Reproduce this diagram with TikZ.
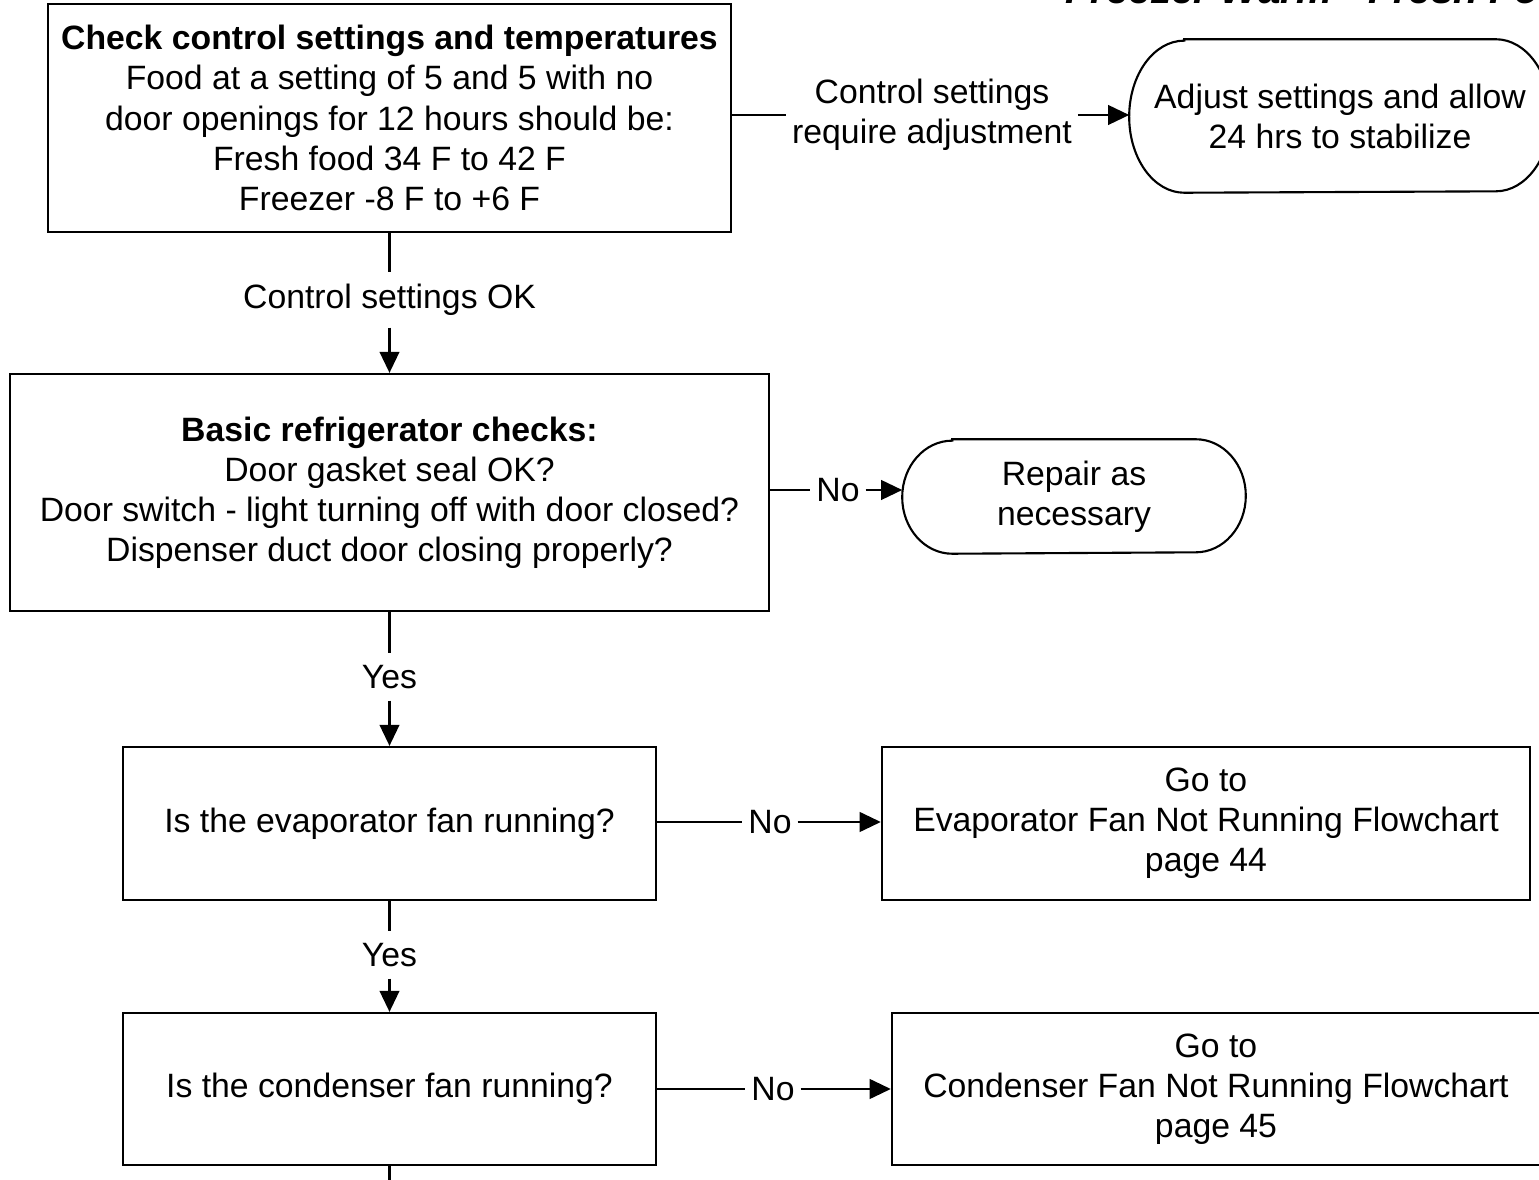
\documentclass[tikz,border=0pt]{standalone}
\usepackage{fontspec}
\setmainfont{Liberation Sans}
\usetikzlibrary{arrows.meta}

% Stadium outline with elliptical ends, drawn around an invisible node
\newcommand\stadium[3]{%
  \draw[link] ([xshift=#2]#1.north west) -- ([xshift=-#2]#1.north east)
    arc[start angle=90,end angle=-90,x radius=#2,y radius=#3]
    -- ([xshift=#2]#1.south west)
    arc[start angle=270,end angle=90,x radius=#2,y radius=#3] -- cycle;}

\begin{document}
\begin{tikzpicture}[x=0.01cm,y=-0.01cm,
  every node/.style={font=\fontsize{9.6}{11.4}\selectfont, align=center},
  box/.style={draw, line width=0.6pt, inner sep=0pt},
  oval/.style={draw=none, inner sep=0pt},
  lbl/.style={inner xsep=1.5pt, inner ysep=3.2pt},
  link/.style={line width=0.6pt},
  arr/.style={link, -{Triangle[length=6pt,width=5.6pt]}}]
\useasboundingbox (0,0) rectangle (1539,1180);
\clip (0,0) rectangle (1539,1180);

% page heading, partly above the page edge
\node[anchor=base west, inner sep=0pt,
      font=\bfseries\itshape\fontsize{11.5}{13}\selectfont] (title) at (1065,4)
  {Freezer Warm - Fresh Food};

% first check
\node[box, minimum width=6.83cm, minimum height=2.28cm] (b1) at (389.5,118)
  {\textbf{Check control settings and temperatures}\\
   Food at a setting of 5 and 5 with no\\
   door openings for 12 hours should be:\\
   Fresh food 34 F to 42 F\\
   Freezer -8 F to +6 F};

\node[lbl] (adj) at (932,115) {Control settings\\require adjustment};
\node[oval, minimum width=4.2cm, minimum height=1.52cm] (o1) at (1340,116)
  {Adjust settings and allow\\24 hrs to stabilize};
\stadium{o1}{0.55cm}{0.76cm}
\draw[link] (adj.west -| b1.east) -- (adj.west);
\draw[arr] (adj.east) -- (adj.east -| o1.west);

\node[lbl] (ok) at (389.5,300) {Control settings OK};
\draw[link] (b1.south) -- (ok.north);

% basic checks
\node[box, minimum width=7.59cm, minimum height=2.37cm] (b2) at (389.5,492.5)
  {\textbf{Basic refrigerator checks:}\\
   Door gasket seal OK?\\
   Door switch - light turning off with door closed?\\
   Dispenser duct door closing properly?};
\draw[arr] (ok.south) -- (b2.north);

\node[lbl] (no1) at (838,490) {No};
\node[oval, minimum width=3.42cm, minimum height=1.13cm] (o2) at (1074,496.5)
  {Repair as\\necessary};
\stadium{o2}{0.5cm}{0.565cm}
\draw[link] (no1.west -| b2.east) -- (no1.west);
\draw[arr] (no1.east) -- (no1.east -| o2.west);

\node[lbl] (yes1) at (389.5,677) {Yes};
\draw[link] (b2.south) -- (yes1.north);

% evaporator fan
\node[box, minimum width=5.32cm, minimum height=1.53cm] (b3) at (389.5,823.5)
  {Is the evaporator fan running?};
\draw[arr] (yes1.south) -- (b3.north);

\node[lbl] (no2) at (770,822) {No};
\node[box, minimum width=6.48cm, minimum height=1.53cm] (b4) at (1206,823.5)
  {Go to\\Evaporator Fan Not Running Flowchart\\page 44};
\draw[link] (no2.west -| b3.east) -- (no2.west);
\draw[arr] (no2.east) -- (no2.east -| b4.west);

\node[lbl] (yes2) at (389.5,955) {Yes};
\draw[link] (b3.south) -- (yes2.north);

% condenser fan
\node[box, minimum width=5.32cm, minimum height=1.52cm] (b5) at (389.5,1089)
  {Is the condenser fan running?};
\draw[arr] (yes2.south) -- (b5.north);

\node[lbl] (no3) at (773,1089) {No};
\node[box, minimum width=6.48cm, minimum height=1.52cm] (b6) at (1216,1089)
  {Go to\\Condenser Fan Not Running Flowchart\\page 45};
\draw[link] (no3.west -| b5.east) -- (no3.west);
\draw[arr] (no3.east) -- (no3.east -| b6.west);

% flow continues below
\coordinate (cont) at (389.5,1200);
\draw[link] (b5.south) -- (cont);
\end{tikzpicture}
\end{document}
